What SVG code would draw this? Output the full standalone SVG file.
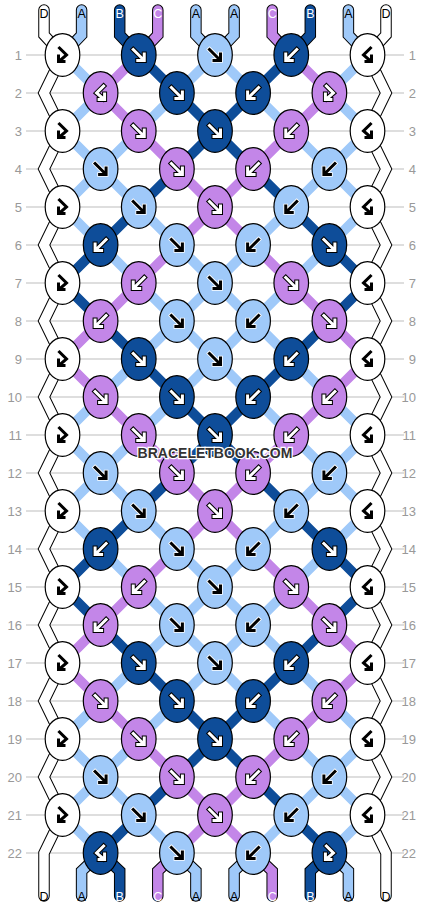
<svg xmlns="http://www.w3.org/2000/svg" width="430" height="908" viewBox="0 0 430 908">
<style>
.W{fill:#fff}.A{fill:#9fc9f9}.B{fill:#0e4d99}.C{fill:#c386e8}
.cA{stroke:#9fc9f9}.cB{stroke:#0e4d99}.cC{stroke:#c386e8}
.ol{stroke:#000;stroke-width:5}.il{stroke:#fff;stroke-width:3}
.olw{stroke:#fff;stroke-width:4.6}.ilk{stroke:#000;stroke-width:3}
.rn{font-family:"Liberation Sans",Arial,sans-serif;font-size:13px;fill:#999}
.lb{font-family:"Liberation Sans",Arial,sans-serif;font-size:12.5px;text-anchor:middle}
.wm{font-family:"Liberation Sans",Arial,sans-serif;font-size:14px;font-weight:bold;fill:#333;stroke:#fff;stroke-width:2.5px;paint-order:stroke;text-anchor:middle}
</style>
<defs>
<ellipse id="ov" rx="17.3" ry="21.3" stroke="#000" stroke-width="1.2"/>
<path id="pf" d="M-5.5,-5.5L4.5,4.5M-1,5.5H5.5V-1" fill="none" stroke-linecap="square" stroke-linejoin="miter"/>
<path id="pfb" d="M-3,-7L4,0L-3,6M-4,1V6.5H1.5" fill="none" stroke-linecap="square" stroke-linejoin="miter"/>
<g id="fw"><use href="#pf" class="ol"/><use href="#pf" class="il"/></g>
<g id="fk"><use href="#pf" class="olw"/><use href="#pf" class="ilk"/></g>
<g id="bw" transform="scale(-1,1)"><use href="#fw"/></g>
<g id="bk" transform="scale(-1,1)"><use href="#fk"/></g>
<g id="fbw"><use href="#pfb" class="ol"/><use href="#pfb" class="il"/></g>
<g id="fbk"><use href="#pfb" class="olw"/><use href="#pfb" class="ilk"/></g>
<g id="bfw" transform="scale(-1,1)"><use href="#fbw"/></g>
<g id="bfk" transform="scale(-1,1)"><use href="#fbk"/></g>
<g id="T2"><path class="cA" d="M100.6,0L62.5,38M176.9,0L138.75,38M253.1,0L291.25,38M329.4,0L367.5,38"/><path class="cC" d="M100.6,0L138.75,38M329.4,0L291.25,38"/><path class="cB" d="M176.9,0L215,38M253.1,0L215,38"/></g>
<g id="T3"><path class="cA" d="M62.5,0L100.6,38M138.75,0L100.6,38M291.25,0L329.4,38M367.5,0L329.4,38"/><path class="cC" d="M138.75,0L176.9,38M291.25,0L253.1,38"/><path class="cB" d="M215,0L176.9,38M215,0L253.1,38"/></g>
<g id="T4"><path class="cA" d="M100.6,0L62.5,38M100.6,0L138.75,38M329.4,0L291.25,38M329.4,0L367.5,38"/><path class="cB" d="M176.9,0L138.75,38M253.1,0L291.25,38"/><path class="cC" d="M176.9,0L215,38M253.1,0L215,38"/></g>
<g id="T5"><path class="cA" d="M62.5,0L100.6,38M138.75,0L176.9,38M291.25,0L253.1,38M367.5,0L329.4,38"/><path class="cB" d="M138.75,0L100.6,38M291.25,0L329.4,38"/><path class="cC" d="M215,0L176.9,38M215,0L253.1,38"/></g>
<g id="T6"><path class="cB" d="M100.6,0L62.5,38M329.4,0L367.5,38"/><path class="cA" d="M100.6,0L138.75,38M176.9,0L215,38M253.1,0L215,38M329.4,0L291.25,38"/><path class="cC" d="M176.9,0L138.75,38M253.1,0L291.25,38"/></g>
<g id="T7"><path class="cB" d="M62.5,0L100.6,38M367.5,0L329.4,38"/><path class="cC" d="M138.75,0L100.6,38M291.25,0L329.4,38"/><path class="cA" d="M138.75,0L176.9,38M215,0L176.9,38M215,0L253.1,38M291.25,0L253.1,38"/></g>
<g id="T8"><path class="cC" d="M100.6,0L62.5,38M329.4,0L367.5,38"/><path class="cB" d="M100.6,0L138.75,38M329.4,0L291.25,38"/><path class="cA" d="M176.9,0L138.75,38M176.9,0L215,38M253.1,0L215,38M253.1,0L291.25,38"/></g>
<g id="T9"><path class="cC" d="M62.5,0L100.6,38M367.5,0L329.4,38"/><path class="cA" d="M138.75,0L100.6,38M215,0L176.9,38M215,0L253.1,38M291.25,0L329.4,38"/><path class="cB" d="M138.75,0L176.9,38M291.25,0L253.1,38"/></g>
<path id="sDL" d="M44,10V35L62.5,55L44,93L62.5,131L44,169L62.5,207L44,245L62.5,283L44,321L62.5,359L44,397L62.5,435L44,473L62.5,511L44,549L62.5,587L44,625L62.5,663L44,701L62.5,739L44,777L62.5,815L44,853V896"/>
<path id="sDR" d="M386,10V35L367.5,55L386,93L367.5,131L386,169L367.5,207L386,245L367.5,283L386,321L367.5,359L386,397L367.5,435L386,473L367.5,511L386,549L367.5,587L386,625L367.5,663L386,701L367.5,739L386,777L367.5,815L386,853V896"/>
<path id="s1" d="M81.6,10V35L62.5,55"/>
<path id="s2" d="M119.7,10V35L138.75,55"/>
<path id="s3" d="M157.8,10V35L138.75,55"/>
<path id="s4" d="M195.9,10V35L215,55"/>
<path id="s5" d="M234.1,10V35L215,55"/>
<path id="s6" d="M272.2,10V35L291.25,55"/>
<path id="s7" d="M310.3,10V35L291.25,55"/>
<path id="s8" d="M348.4,10V35L367.5,55"/>
<path id="e1" d="M100.6,853L81.6,871V896"/>
<path id="e2" d="M100.6,853L119.7,871V896"/>
<path id="e3" d="M176.9,853L157.8,871V896"/>
<path id="e4" d="M176.9,853L195.9,871V896"/>
<path id="e5" d="M253.1,853L234.1,871V896"/>
<path id="e6" d="M253.1,853L272.2,871V896"/>
<path id="e7" d="M329.4,853L310.3,871V896"/>
<path id="e8" d="M329.4,853L348.4,871V896"/>
</defs>
<rect width="430" height="908" fill="#fff"/>
<g id="rowlines" fill="none" stroke="#bdbdbd" stroke-width="1">
<path d="M26,55H404M26,93H404M26,131H404M26,169H404M26,207H404M26,245H404M26,283H404M26,321H404M26,359H404M26,397H404M26,435H404M26,473H404M26,511H404M26,549H404M26,587H404M26,625H404M26,663H404M26,701H404M26,739H404M26,777H404M26,815H404M26,853H404"/>
</g>
<g id="connectors" fill="none" stroke-width="10">
<g transform="translate(0,55)"><path class="cA" d="M62.5,0L100.6,38M215,0L176.9,38M215,0L253.1,38M367.5,0L329.4,38"/><path class="cC" d="M138.75,0L100.6,38M291.25,0L329.4,38"/><path class="cB" d="M138.75,0L176.9,38M291.25,0L253.1,38"/></g>
<use href="#T2" y="93"/><use href="#T3" y="131"/><use href="#T4" y="169"/><use href="#T5" y="207"/>
<use href="#T6" y="245"/><use href="#T7" y="283"/><use href="#T8" y="321"/><use href="#T9" y="359"/>
<use href="#T2" y="397"/><use href="#T3" y="435"/><use href="#T4" y="473"/><use href="#T5" y="511"/>
<use href="#T6" y="549"/><use href="#T7" y="587"/><use href="#T8" y="625"/><use href="#T9" y="663"/>
<use href="#T2" y="701"/><use href="#T3" y="739"/><use href="#T4" y="777"/><use href="#T5" y="815"/>
</g>
<g id="strings" fill="none" stroke-linecap="round" stroke-linejoin="miter">
<g stroke="#000" stroke-width="11.5">
<use href="#sDL"/><use href="#sDR"/><use href="#s1"/><use href="#s2"/><use href="#s3"/><use href="#s4"/><use href="#s5"/><use href="#s6"/><use href="#s7"/><use href="#s8"/>
<use href="#e1"/><use href="#e2"/><use href="#e3"/><use href="#e4"/><use href="#e5"/><use href="#e6"/><use href="#e7"/><use href="#e8"/>
</g>
<g stroke-width="9.5">
<use href="#sDL" stroke="#fff"/><use href="#sDR" stroke="#fff"/>
<use href="#s1" stroke="#9fc9f9"/><use href="#s2" stroke="#0e4d99"/><use href="#s3" stroke="#c386e8"/><use href="#s4" stroke="#9fc9f9"/><use href="#s5" stroke="#9fc9f9"/><use href="#s6" stroke="#c386e8"/><use href="#s7" stroke="#0e4d99"/><use href="#s8" stroke="#9fc9f9"/>
<use href="#e1" stroke="#9fc9f9"/><use href="#e2" stroke="#0e4d99"/><use href="#e3" stroke="#c386e8"/><use href="#e4" stroke="#9fc9f9"/><use href="#e5" stroke="#9fc9f9"/><use href="#e6" stroke="#c386e8"/><use href="#e7" stroke="#0e4d99"/><use href="#e8" stroke="#9fc9f9"/>
</g>
</g>
<g id="knots">
<g id="k1-1" class="W" transform="translate(62.5,55)"><use href="#ov"/><use href="#fbk"/></g>
<g id="k1-2" class="B" transform="translate(138.75,55)"><use href="#ov"/><use href="#fw"/></g>
<g id="k1-3" class="A" transform="translate(215,55)"><use href="#ov"/><use href="#fk"/></g>
<g id="k1-4" class="B" transform="translate(291.25,55)"><use href="#ov"/><use href="#bw"/></g>
<g id="k1-5" class="W" transform="translate(367.5,55)"><use href="#ov"/><use href="#bfk"/></g>
<g id="k2-1" class="C" transform="translate(100.6,93)"><use href="#ov"/><use href="#bfw"/></g>
<g id="k2-2" class="B" transform="translate(176.9,93)"><use href="#ov"/><use href="#fw"/></g>
<g id="k2-3" class="B" transform="translate(253.1,93)"><use href="#ov"/><use href="#bw"/></g>
<g id="k2-4" class="C" transform="translate(329.4,93)"><use href="#ov"/><use href="#fbw"/></g>
<g id="k3-1" class="W" transform="translate(62.5,131)"><use href="#ov"/><use href="#fbk"/></g>
<g id="k3-2" class="C" transform="translate(138.75,131)"><use href="#ov"/><use href="#fw"/></g>
<g id="k3-3" class="B" transform="translate(215,131)"><use href="#ov"/><use href="#fw"/></g>
<g id="k3-4" class="C" transform="translate(291.25,131)"><use href="#ov"/><use href="#bw"/></g>
<g id="k3-5" class="W" transform="translate(367.5,131)"><use href="#ov"/><use href="#bfk"/></g>
<g id="k4-1" class="A" transform="translate(100.6,169)"><use href="#ov"/><use href="#fk"/></g>
<g id="k4-2" class="C" transform="translate(176.9,169)"><use href="#ov"/><use href="#fw"/></g>
<g id="k4-3" class="C" transform="translate(253.1,169)"><use href="#ov"/><use href="#bw"/></g>
<g id="k4-4" class="A" transform="translate(329.4,169)"><use href="#ov"/><use href="#bk"/></g>
<g id="k5-1" class="W" transform="translate(62.5,207)"><use href="#ov"/><use href="#fbk"/></g>
<g id="k5-2" class="A" transform="translate(138.75,207)"><use href="#ov"/><use href="#fk"/></g>
<g id="k5-3" class="C" transform="translate(215,207)"><use href="#ov"/><use href="#fw"/></g>
<g id="k5-4" class="A" transform="translate(291.25,207)"><use href="#ov"/><use href="#bk"/></g>
<g id="k5-5" class="W" transform="translate(367.5,207)"><use href="#ov"/><use href="#bfk"/></g>
<g id="k6-1" class="B" transform="translate(100.6,245)"><use href="#ov"/><use href="#bw"/></g>
<g id="k6-2" class="A" transform="translate(176.9,245)"><use href="#ov"/><use href="#fk"/></g>
<g id="k6-3" class="A" transform="translate(253.1,245)"><use href="#ov"/><use href="#bk"/></g>
<g id="k6-4" class="B" transform="translate(329.4,245)"><use href="#ov"/><use href="#fw"/></g>
<g id="k7-1" class="W" transform="translate(62.5,283)"><use href="#ov"/><use href="#fbk"/></g>
<g id="k7-2" class="C" transform="translate(138.75,283)"><use href="#ov"/><use href="#bw"/></g>
<g id="k7-3" class="A" transform="translate(215,283)"><use href="#ov"/><use href="#fk"/></g>
<g id="k7-4" class="C" transform="translate(291.25,283)"><use href="#ov"/><use href="#fw"/></g>
<g id="k7-5" class="W" transform="translate(367.5,283)"><use href="#ov"/><use href="#bfk"/></g>
<g id="k8-1" class="C" transform="translate(100.6,321)"><use href="#ov"/><use href="#bw"/></g>
<g id="k8-2" class="A" transform="translate(176.9,321)"><use href="#ov"/><use href="#fk"/></g>
<g id="k8-3" class="A" transform="translate(253.1,321)"><use href="#ov"/><use href="#bk"/></g>
<g id="k8-4" class="C" transform="translate(329.4,321)"><use href="#ov"/><use href="#fw"/></g>
<g id="k9-1" class="W" transform="translate(62.5,359)"><use href="#ov"/><use href="#fbk"/></g>
<g id="k9-2" class="B" transform="translate(138.75,359)"><use href="#ov"/><use href="#fw"/></g>
<g id="k9-3" class="A" transform="translate(215,359)"><use href="#ov"/><use href="#fk"/></g>
<g id="k9-4" class="B" transform="translate(291.25,359)"><use href="#ov"/><use href="#bw"/></g>
<g id="k9-5" class="W" transform="translate(367.5,359)"><use href="#ov"/><use href="#bfk"/></g>
<g id="k10-1" class="C" transform="translate(100.6,397)"><use href="#ov"/><use href="#fw"/></g>
<g id="k10-2" class="B" transform="translate(176.9,397)"><use href="#ov"/><use href="#fw"/></g>
<g id="k10-3" class="B" transform="translate(253.1,397)"><use href="#ov"/><use href="#bw"/></g>
<g id="k10-4" class="C" transform="translate(329.4,397)"><use href="#ov"/><use href="#bw"/></g>
<g id="k11-1" class="W" transform="translate(62.5,435)"><use href="#ov"/><use href="#fbk"/></g>
<g id="k11-2" class="C" transform="translate(138.75,435)"><use href="#ov"/><use href="#fw"/></g>
<g id="k11-3" class="B" transform="translate(215,435)"><use href="#ov"/><use href="#fw"/></g>
<g id="k11-4" class="C" transform="translate(291.25,435)"><use href="#ov"/><use href="#bw"/></g>
<g id="k11-5" class="W" transform="translate(367.5,435)"><use href="#ov"/><use href="#bfk"/></g>
<g id="k12-1" class="A" transform="translate(100.6,473)"><use href="#ov"/><use href="#fk"/></g>
<g id="k12-2" class="C" transform="translate(176.9,473)"><use href="#ov"/><use href="#fw"/></g>
<g id="k12-3" class="C" transform="translate(253.1,473)"><use href="#ov"/><use href="#bw"/></g>
<g id="k12-4" class="A" transform="translate(329.4,473)"><use href="#ov"/><use href="#bk"/></g>
<g id="k13-1" class="W" transform="translate(62.5,511)"><use href="#ov"/><use href="#fbk"/></g>
<g id="k13-2" class="A" transform="translate(138.75,511)"><use href="#ov"/><use href="#fk"/></g>
<g id="k13-3" class="C" transform="translate(215,511)"><use href="#ov"/><use href="#fw"/></g>
<g id="k13-4" class="A" transform="translate(291.25,511)"><use href="#ov"/><use href="#bk"/></g>
<g id="k13-5" class="W" transform="translate(367.5,511)"><use href="#ov"/><use href="#bfk"/></g>
<g id="k14-1" class="B" transform="translate(100.6,549)"><use href="#ov"/><use href="#bw"/></g>
<g id="k14-2" class="A" transform="translate(176.9,549)"><use href="#ov"/><use href="#fk"/></g>
<g id="k14-3" class="A" transform="translate(253.1,549)"><use href="#ov"/><use href="#bk"/></g>
<g id="k14-4" class="B" transform="translate(329.4,549)"><use href="#ov"/><use href="#fw"/></g>
<g id="k15-1" class="W" transform="translate(62.5,587)"><use href="#ov"/><use href="#fbk"/></g>
<g id="k15-2" class="C" transform="translate(138.75,587)"><use href="#ov"/><use href="#bw"/></g>
<g id="k15-3" class="A" transform="translate(215,587)"><use href="#ov"/><use href="#fk"/></g>
<g id="k15-4" class="C" transform="translate(291.25,587)"><use href="#ov"/><use href="#fw"/></g>
<g id="k15-5" class="W" transform="translate(367.5,587)"><use href="#ov"/><use href="#bfk"/></g>
<g id="k16-1" class="C" transform="translate(100.6,625)"><use href="#ov"/><use href="#bw"/></g>
<g id="k16-2" class="A" transform="translate(176.9,625)"><use href="#ov"/><use href="#fk"/></g>
<g id="k16-3" class="A" transform="translate(253.1,625)"><use href="#ov"/><use href="#bk"/></g>
<g id="k16-4" class="C" transform="translate(329.4,625)"><use href="#ov"/><use href="#fw"/></g>
<g id="k17-1" class="W" transform="translate(62.5,663)"><use href="#ov"/><use href="#fbk"/></g>
<g id="k17-2" class="B" transform="translate(138.75,663)"><use href="#ov"/><use href="#fw"/></g>
<g id="k17-3" class="A" transform="translate(215,663)"><use href="#ov"/><use href="#fk"/></g>
<g id="k17-4" class="B" transform="translate(291.25,663)"><use href="#ov"/><use href="#bw"/></g>
<g id="k17-5" class="W" transform="translate(367.5,663)"><use href="#ov"/><use href="#bfk"/></g>
<g id="k18-1" class="C" transform="translate(100.6,701)"><use href="#ov"/><use href="#fw"/></g>
<g id="k18-2" class="B" transform="translate(176.9,701)"><use href="#ov"/><use href="#fw"/></g>
<g id="k18-3" class="B" transform="translate(253.1,701)"><use href="#ov"/><use href="#bw"/></g>
<g id="k18-4" class="C" transform="translate(329.4,701)"><use href="#ov"/><use href="#bw"/></g>
<g id="k19-1" class="W" transform="translate(62.5,739)"><use href="#ov"/><use href="#fbk"/></g>
<g id="k19-2" class="C" transform="translate(138.75,739)"><use href="#ov"/><use href="#fw"/></g>
<g id="k19-3" class="B" transform="translate(215,739)"><use href="#ov"/><use href="#fw"/></g>
<g id="k19-4" class="C" transform="translate(291.25,739)"><use href="#ov"/><use href="#bw"/></g>
<g id="k19-5" class="W" transform="translate(367.5,739)"><use href="#ov"/><use href="#bfk"/></g>
<g id="k20-1" class="A" transform="translate(100.6,777)"><use href="#ov"/><use href="#fk"/></g>
<g id="k20-2" class="C" transform="translate(176.9,777)"><use href="#ov"/><use href="#fw"/></g>
<g id="k20-3" class="C" transform="translate(253.1,777)"><use href="#ov"/><use href="#bw"/></g>
<g id="k20-4" class="A" transform="translate(329.4,777)"><use href="#ov"/><use href="#bk"/></g>
<g id="k21-1" class="W" transform="translate(62.5,815)"><use href="#ov"/><use href="#fbk"/></g>
<g id="k21-2" class="A" transform="translate(138.75,815)"><use href="#ov"/><use href="#fk"/></g>
<g id="k21-3" class="C" transform="translate(215,815)"><use href="#ov"/><use href="#fw"/></g>
<g id="k21-4" class="A" transform="translate(291.25,815)"><use href="#ov"/><use href="#bk"/></g>
<g id="k21-5" class="W" transform="translate(367.5,815)"><use href="#ov"/><use href="#bfk"/></g>
<g id="k22-1" class="B" transform="translate(100.6,853)"><use href="#ov"/><use href="#bfw"/></g>
<g id="k22-2" class="A" transform="translate(176.9,853)"><use href="#ov"/><use href="#fk"/></g>
<g id="k22-3" class="A" transform="translate(253.1,853)"><use href="#ov"/><use href="#bk"/></g>
<g id="k22-4" class="B" transform="translate(329.4,853)"><use href="#ov"/><use href="#fbw"/></g>
</g>
<g id="string-labels" class="lb">
<text x="44" y="17.5" fill="#000">D</text><text x="81.6" y="17.5" fill="#000">A</text><text x="119.7" y="17.5" fill="#fff">B</text><text x="157.8" y="17.5" fill="#fff">C</text><text x="195.9" y="17.5" fill="#000">A</text><text x="234.1" y="17.5" fill="#000">A</text><text x="272.2" y="17.5" fill="#fff">C</text><text x="310.3" y="17.5" fill="#fff">B</text><text x="348.4" y="17.5" fill="#000">A</text><text x="386" y="17.5" fill="#000">D</text>
<text x="44" y="900.5" fill="#000">D</text><text x="81.6" y="900.5" fill="#000">A</text><text x="119.7" y="900.5" fill="#fff">B</text><text x="157.8" y="900.5" fill="#fff">C</text><text x="195.9" y="900.5" fill="#000">A</text><text x="234.1" y="900.5" fill="#000">A</text><text x="272.2" y="900.5" fill="#fff">C</text><text x="310.3" y="900.5" fill="#fff">B</text><text x="348.4" y="900.5" fill="#000">A</text><text x="386" y="900.5" fill="#000">D</text>
</g>
<g id="row-numbers" class="rn" text-anchor="end">
<text x="22" y="59.5">1</text><text x="22" y="97.5">2</text><text x="22" y="135.5">3</text><text x="22" y="173.5">4</text><text x="22" y="211.5">5</text><text x="22" y="249.5">6</text><text x="22" y="287.5">7</text><text x="22" y="325.5">8</text><text x="22" y="363.5">9</text><text x="22" y="401.5">10</text><text x="22" y="439.5">11</text><text x="22" y="477.5">12</text><text x="22" y="515.5">13</text><text x="22" y="553.5">14</text><text x="22" y="591.5">15</text><text x="22" y="629.5">16</text><text x="22" y="667.5">17</text><text x="22" y="705.5">18</text><text x="22" y="743.5">19</text><text x="22" y="781.5">20</text><text x="22" y="819.5">21</text><text x="22" y="857.5">22</text>
<text x="416" y="59.5">1</text><text x="416" y="97.5">2</text><text x="416" y="135.5">3</text><text x="416" y="173.5">4</text><text x="416" y="211.5">5</text><text x="416" y="249.5">6</text><text x="416" y="287.5">7</text><text x="416" y="325.5">8</text><text x="416" y="363.5">9</text><text x="416" y="401.5">10</text><text x="416" y="439.5">11</text><text x="416" y="477.5">12</text><text x="416" y="515.5">13</text><text x="416" y="553.5">14</text><text x="416" y="591.5">15</text><text x="416" y="629.5">16</text><text x="416" y="667.5">17</text><text x="416" y="705.5">18</text><text x="416" y="743.5">19</text><text x="416" y="781.5">20</text><text x="416" y="819.5">21</text><text x="416" y="857.5">22</text>
</g>
<text id="watermark" class="wm" x="215" y="458">BRACELETBOOK.COM</text>
</svg>
